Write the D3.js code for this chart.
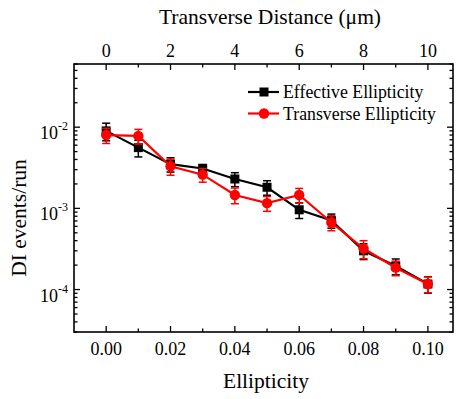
<!DOCTYPE html>
<html><head><meta charset="utf-8">
<script src="https://cdn.jsdelivr.net/npm/d3@7/dist/d3.min.js"></script>
<style>body{margin:0;background:#fff}</style>
</head><body><svg id="c" width="457" height="399" font-family="'Liberation Serif', 'DejaVu Serif', serif"></svg>
<script>
const ellipticity = [0.00,0.01,0.02,0.03,0.04,0.05,0.06,0.07,0.08,0.09,0.10];
const effective = [0.0090,0.0056,0.0035,0.0031,0.0023,0.00182,0.00096,0.00071,0.00030,0.000195,0.000117];
const effectiveErr = [0.0022,0.0013,0.0007,0.00037,0.00045,0.00037,0.00021,0.00014,0.000066,0.000043,0.000027];
const transverse = [0.0080,0.0078,0.0033,0.0026,0.00146,0.00116,0.00146,0.00067,0.00032,0.000186,0.000117];
const transverseErr = [0.0017,0.0016,0.00074,0.0005,0.00032,0.00024,0.0003,0.00014,0.00008,0.000038,0.000026];
const xTicks = [0.00,0.02,0.04,0.06,0.08,0.10];
const topTicks = [0,2,4,6,8,10];
const yTicks = [1e-4,1e-3,1e-2];
const yTickExp = ["-4","-3","-2"];
const seriesNames = ["Effective Ellipticity","Transverse Ellipticity"];

const svg = d3.select("#c");
const L=74, R=453, T=64, B=332;
const x = d3.scaleLinear().domain([-0.01,0.1078]).range([L,R]);
const xt = d3.scaleLinear().domain([-1,10.78]).range([L,R]);
const y = d3.scaleLog().domain([3e-5,0.06]).range([B,T]);

const g = svg.append("g");
const minorX = [0.01,0.03,0.05,0.07,0.09];
const minorTop = [1,3,5,7,9];
const minorY = [];
[1e-5,1e-4,1e-3,1e-2].forEach(d=>{for(let k=2;k<=9;k++){const v=d*k; if(v>=3e-5&&v<=0.06) minorY.push(v);}});

const tk = (x1,y1,x2,y2)=>g.append("line").attr("x1",x1).attr("y1",y1).attr("x2",x2).attr("y2",y2).attr("stroke","#000").attr("stroke-width",1.3);
xTicks.forEach(v=>{tk(x(v),B,x(v),B-6);});
minorX.forEach(v=>{tk(x(v),B,x(v),B-3.5);});
topTicks.forEach(v=>{tk(xt(v),T,xt(v),T+6);});
minorTop.forEach(v=>{tk(xt(v),T,xt(v),T+3.5);});
yTicks.forEach(v=>{tk(L,y(v),L+6,y(v)); tk(R,y(v),R-6,y(v));});
minorY.forEach(v=>{tk(L,y(v),L+3.5,y(v)); tk(R,y(v),R-3.5,y(v));});
g.append("rect").attr("x",L).attr("y",T).attr("width",R-L).attr("height",B-T).attr("fill","none").attr("stroke","#000").attr("stroke-width",1.6);

xTicks.forEach(v=>g.append("text").attr("x",x(v)).attr("y",355).attr("text-anchor","middle").attr("font-size",18).text(d3.format(".2f")(v)));
topTicks.forEach(v=>g.append("text").attr("x",xt(v)).attr("y",57).attr("text-anchor","middle").attr("font-size",18).text(v));
yTicks.forEach((v,i)=>{
  const t=g.append("text").attr("x",68).attr("y",y(v)+12).attr("text-anchor","end").attr("font-size",18);
  t.append("tspan").text("10");
  t.append("tspan").attr("dy",-9).attr("font-size",12).text(yTickExp[i]);
});
g.append("text").attr("x",270).attr("y",24).attr("text-anchor","middle").attr("font-size",21.5).text("Transverse Distance (μm)");
g.append("text").attr("x",266).attr("y",388).attr("text-anchor","middle").attr("font-size",21.5).text("Ellipticity");
g.append("text").attr("transform","translate(26,218) rotate(-90)").attr("text-anchor","middle").attr("font-size",21.5).text("DI events/run");

function drawSeries(vals,errs,color,shape){
  const s=svg.append("g");
  const line=d3.line().x((d,i)=>x(ellipticity[i])).y(d=>y(d));
  s.append("path").datum(vals).attr("d",line).attr("fill","none").attr("stroke",color).attr("stroke-width",2.2);
  vals.forEach((v,i)=>{
    const cx=x(ellipticity[i]), y1=y(v+errs[i]), y2=y(v-errs[i]);
    s.append("line").attr("x1",cx).attr("x2",cx).attr("y1",y1).attr("y2",y2).attr("stroke",color).attr("stroke-width",1.5);
    [y1,y2].forEach(yy=>s.append("line").attr("x1",cx-4).attr("x2",cx+4).attr("y1",yy).attr("y2",yy).attr("stroke",color).attr("stroke-width",1.5));
    if(shape==="sq") s.append("rect").attr("x",cx-4.5).attr("y",y(v)-4.5).attr("width",9).attr("height",9).attr("fill",color);
    else s.append("circle").attr("cx",cx).attr("cy",y(v)).attr("r",5.2).attr("fill",color);
  });
}
drawSeries(effective,effectiveErr,"#000","sq");
drawSeries(transverse,transverseErr,"#ff0000","ci");

const lg=svg.append("g");
[[seriesNames[0],"#000","sq",92],[seriesNames[1],"#ff0000","ci",113.5]].forEach(([name,c,sh,yy])=>{
  lg.append("line").attr("x1",248).attr("x2",279).attr("y1",yy).attr("y2",yy).attr("stroke",c).attr("stroke-width",2.2);
  if(sh==="sq") lg.append("rect").attr("x",259.5).attr("y",yy-4.5).attr("width",9).attr("height",9).attr("fill",c);
  else lg.append("circle").attr("cx",264).attr("cy",yy).attr("r",5.2).attr("fill",c);
  lg.append("text").attr("x",283).attr("y",yy+6).attr("font-size",17.8).text(name);
});
</script></body></html>
